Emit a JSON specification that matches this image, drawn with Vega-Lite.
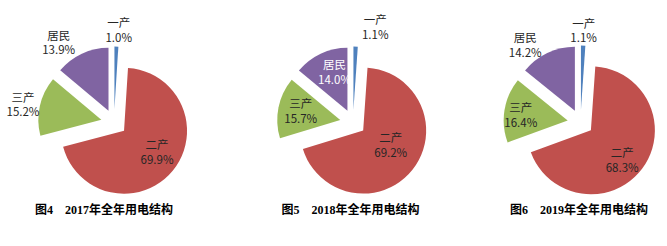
{
  "$schema": "https://vega.github.io/schema/vega-lite/v6.json",
  "padding": {"left": 6, "top": 0, "right": 0, "bottom": 0},
  "background": "white",
  "config": {"view": {"stroke": null}},
  "data": {"values": [
    {"year": 2017, "cat": "一产", "share": 0.010, "k": 1},
    {"year": 2017, "cat": "二产", "share": 0.699, "k": 2},
    {"year": 2017, "cat": "三产", "share": 0.152, "k": 3},
    {"year": 2017, "cat": "居民", "share": 0.139, "k": 4},
    {"year": 2018, "cat": "一产", "share": 0.011, "k": 1},
    {"year": 2018, "cat": "二产", "share": 0.692, "k": 2},
    {"year": 2018, "cat": "三产", "share": 0.157, "k": 3},
    {"year": 2018, "cat": "居民", "share": 0.140, "k": 4},
    {"year": 2019, "cat": "一产", "share": 0.011, "k": 1},
    {"year": 2019, "cat": "二产", "share": 0.683, "k": 2},
    {"year": 2019, "cat": "三产", "share": 0.164, "k": 3},
    {"year": 2019, "cat": "居民", "share": 0.142, "k": 4}
  ]},
  "spacing": 0,
  "bounds": "flush",
  "hconcat": [
    {
      "width": 198, "height": 245,
      "title": {"text": "图4　2017年全年用电结构", "orient": "bottom", "offset": -40, "dx": -10, "frame": "group", "anchor": "middle", "font": "Liberation Serif, Noto Sans CJK SC", "fontSize": 12, "fontWeight": "bold", "color": "#000000"},
      "transform": [{"filter": "datum.year == 2017"}],
      "encoding": {
        "theta": {"field": "share", "type": "quantitative", "stack": true},
        "order": {"field": "k", "type": "quantitative"},
        "detail": {"field": "cat", "type": "nominal"}
      },
      "layer": [
        {"mark": {"type": "arc", "radius": 63,
          "xOffset": {"expr": "13*sin(PI*(datum.share_start+datum.share_end))"},
          "yOffset": {"expr": "-13*cos(PI*(datum.share_start+datum.share_end))"}},
         "encoding": {"color": {"field": "cat", "type": "nominal", "scale": {"domain": ["一产", "二产", "三产", "居民"], "range": ["#4F81BD", "#C0504D", "#9BBB59", "#8064A2"]}, "legend": null}}},
        {"mark": {"type": "text", "font": "Noto Sans CJK SC", "fontSize": 11.5, "lineHeight": 14.5, "align": "center", "baseline": "middle", "dy": -7, "fill": "#262626",
          "text": {"expr": "[datum.cat, format(datum.share, '.1%')]"},
          "radius": {"expr": "datum.cat=='一产'?91.5:datum.cat=='居民'?96.4:datum.cat=='三产'?92.5:53"},
          "thetaOffset": {"expr": "datum.cat=='一产'?0.02:datum.cat=='居民'?-0.175:datum.cat=='三产'?-0.04:-0.065"}}}
      ]
    },
    {
      "width": 280, "height": 245,
      "title": {"text": "图5　2018年全年用电结构", "orient": "bottom", "offset": -40, "dx": -2.5, "frame": "group", "anchor": "middle", "font": "Liberation Serif, Noto Sans CJK SC", "fontSize": 12, "fontWeight": "bold", "color": "#000000"},
      "transform": [{"filter": "datum.year == 2018"}],
      "encoding": {
        "theta": {"field": "share", "type": "quantitative", "stack": true},
        "order": {"field": "k", "type": "quantitative"},
        "detail": {"field": "cat", "type": "nominal"}
      },
      "layer": [
        {"mark": {"type": "arc", "radius": 63,
          "xOffset": {"expr": "13*sin(PI*(datum.share_start+datum.share_end))"},
          "yOffset": {"expr": "-13*cos(PI*(datum.share_start+datum.share_end))"}},
         "encoding": {"color": {"field": "cat", "type": "nominal", "scale": {"domain": ["一产", "二产", "三产", "居民"], "range": ["#4F81BD", "#C0504D", "#9BBB59", "#8064A2"]}, "legend": null}}},
        {"mark": {"type": "text", "font": "Noto Sans CJK SC", "fontSize": 11.5, "lineHeight": 14.5, "align": "center", "baseline": "middle", "dy": -7,
          "fill": {"expr": "datum.cat=='居民'?'#ffffff':'#262626'"},
          "text": {"expr": "[datum.cat, format(datum.share, '.1%')]"},
          "radius": {"expr": "datum.cat=='一产'?97:datum.cat=='居民'?52.5:datum.cat=='三产'?53.3:44.5"},
          "thetaOffset": {"expr": "datum.cat=='一产'?0.197:datum.cat=='居民'?0.08:datum.cat=='三产'?0:-0.113"}}}
      ]
    },
    {
      "width": 175, "height": 245,
      "title": {"text": "图6　2019年全年用电结构", "orient": "bottom", "offset": -40, "dx": -1.5, "frame": "group", "anchor": "middle", "font": "Liberation Serif, Noto Sans CJK SC", "fontSize": 12, "fontWeight": "bold", "color": "#000000"},
      "transform": [{"filter": "datum.year == 2019"}],
      "encoding": {
        "theta": {"field": "share", "type": "quantitative", "stack": true},
        "order": {"field": "k", "type": "quantitative"},
        "detail": {"field": "cat", "type": "nominal"}
      },
      "layer": [
        {"mark": {"type": "arc", "radius": 64,
          "xOffset": {"expr": "13*sin(PI*(datum.share_start+datum.share_end))"},
          "yOffset": {"expr": "-13*cos(PI*(datum.share_start+datum.share_end))"}},
         "encoding": {"color": {"field": "cat", "type": "nominal", "scale": {"domain": ["一产", "二产", "三产", "居民"], "range": ["#4F81BD", "#C0504D", "#9BBB59", "#8064A2"]}, "legend": null}}},
        {"mark": {"type": "text", "font": "Noto Sans CJK SC", "fontSize": 11.5, "lineHeight": 14.5, "align": "center", "baseline": "middle", "dy": -7, "fill": "#262626",
          "text": {"expr": "[datum.cat, format(datum.share, '.1%')]"},
          "radius": {"expr": "datum.cat=='一产'?91:datum.cat=='居民'?94.3:datum.cat=='三产'?60:56.8"},
          "thetaOffset": {"expr": "datum.cat=='一产'?0:datum.cat=='居民'?-0.18:datum.cat=='三产'?-0.06:0.103"}}}
      ]
    }
  ]
}
